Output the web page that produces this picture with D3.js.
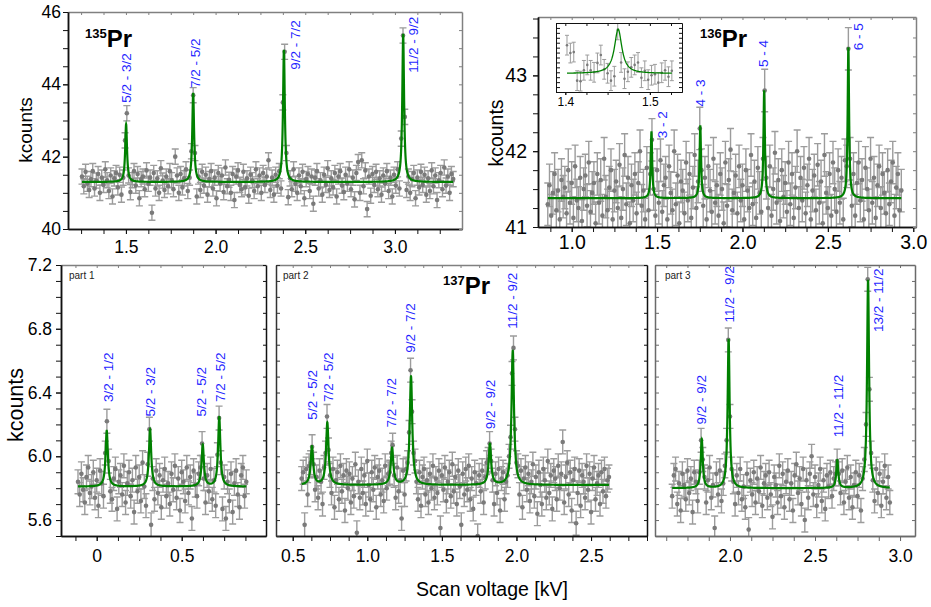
<!DOCTYPE html>
<html><head><meta charset="utf-8">
<script src="https://cdn.jsdelivr.net/npm/d3@7"></script>
<style>body{margin:0;background:#fff} svg{display:block;font-family:"Liberation Sans",Arial,sans-serif}</style>
</head><body><svg id="c" width="931" height="607"></svg>
<script>
// ---------- DATA ----------
// 135Pr scan (x start, step, kcounts)
const tlX0 = 1.255, tlStep = 0.01;
const tlY = [41.45,41.18,41.58,41.25,41.08,41.38,41.60,41.12,41.34,41.52,
41.00,41.42,41.22,41.65,41.35,41.05,41.48,40.90,41.40,41.55,
41.15,41.50,40.95,41.42,42.45,43.20,41.48,41.02,41.35,41.60,
41.20,41.52,40.85,41.38,41.45,41.10,41.62,41.25,41.42,40.45,
41.55,41.12,41.40,41.00,41.68,41.34,41.08,41.45,41.18,41.60,
41.35,41.10,42.00,41.48,41.00,41.52,41.15,41.40,41.65,41.05,
41.42,42.15,43.70,42.10,40.90,41.45,41.08,41.58,41.20,41.50,
40.95,41.38,41.60,41.12,41.42,40.85,41.55,41.25,41.48,41.02,
41.70,41.18,41.36,41.00,41.52,40.80,41.45,41.62,41.22,41.10,
41.58,41.15,41.40,40.92,41.50,41.35,41.05,41.65,41.18,41.48,
41.00,41.55,41.22,41.45,41.90,41.08,41.42,40.95,41.50,41.20,
41.60,41.12,43.50,44.90,42.10,40.88,41.40,41.10,41.65,41.25,
41.00,41.48,41.18,41.58,40.85,41.38,41.52,41.05,41.45,40.70,
41.42,41.60,41.12,41.35,40.95,41.50,41.22,41.68,41.08,41.40,
41.15,41.55,40.90,41.45,41.60,41.20,41.02,41.50,41.25,41.65,
41.10,41.42,40.82,41.55,41.85,41.00,41.90,41.18,41.62,40.55,
41.45,40.92,41.52,41.22,41.58,41.10,41.40,40.95,41.48,41.25,
41.60,41.05,41.42,40.90,41.50,41.20,41.65,41.12,42.50,45.35,
43.10,41.08,41.45,41.00,41.38,41.55,40.85,41.42,41.15,41.58,
41.22,41.50,40.95,41.40,41.05,41.62,41.18,41.48,40.80,41.35,
41.55,41.10,41.70,41.20,41.45,41.00,41.52,41.38];
const tlBase = 41.30, tlWidth = 0.006;
const tlCenters = [1.501, 1.875, 2.381, 3.046];
const tlAmps = [1.60, 2.46, 3.65, 4.07];
const tlLabels = ["5/2 - 3/2", "7/2 - 5/2", "9/2 - 7/2", "11/2 - 9/2"];
const tlLabelX = [1.504, 1.885, 2.443, 3.101];
const tlLabelY = [43.49, 43.90, 44.40, 44.32];
const tlXTicks = [1.5, 2.0, 2.5, 3.0], tlXTickLabels = ["1.5", "2.0", "2.5", "3.0"];
const tlYTicks = [40, 42, 44, 46], tlYTickLabels = ["40", "42", "44", "46"];

// 136Pr scan
const trX0 = 0.86, trStep = 0.01;
const trY = [41.30,41.55,41.15,41.45,41.70,41.22,41.48,41.10,41.62,41.40,
41.52,41.18,41.75,41.32,41.58,41.12,41.80,41.35,41.25,41.65,
41.08,41.50,41.68,41.28,41.85,41.20,41.45,41.58,41.05,41.70,
41.32,41.62,41.15,41.90,41.40,41.22,41.52,41.75,41.10,41.48,
41.60,41.25,41.82,41.12,41.50,41.95,41.30,41.65,41.05,41.55,
41.35,41.70,41.18,41.58,42.00,41.28,41.48,41.10,41.78,41.22,
41.70,42.15,41.50,41.15,41.75,41.32,41.88,41.20,41.55,41.65,
41.10,41.80,41.45,41.22,42.00,41.30,41.68,41.05,41.60,41.48,
41.18,41.85,41.35,41.70,41.12,41.52,41.95,41.25,41.60,42.30,
41.75,41.28,41.65,41.10,41.80,41.48,41.20,41.90,41.32,41.55,
41.15,41.70,41.50,41.05,41.85,41.28,41.62,42.02,41.22,41.45,
41.68,41.18,41.80,41.35,41.55,41.10,41.75,41.48,41.25,41.95,
41.30,41.60,41.12,41.78,41.45,41.20,41.90,42.80,41.65,41.25,
41.80,41.15,41.50,41.98,41.32,41.62,41.08,41.75,41.40,41.58,
41.20,41.85,41.30,41.70,41.12,41.52,42.00,41.25,41.65,41.35,
41.78,41.18,41.55,41.90,41.10,41.48,41.68,41.22,41.82,41.32,
41.60,41.05,41.95,41.45,41.25,41.70,41.15,41.85,41.50,41.20,
41.75,41.32,41.65,41.10,41.88,41.80,43.35,41.90,41.28,41.70,
41.15,41.58,41.85,41.35,41.62,41.10,41.78,41.50,41.22,41.90,
41.32,41.65,41.12,41.55,41.80,41.25,41.70,41.45,41.18,41.75,
41.30,41.60,41.85,41.15,41.52,41.70,41.22,41.48];
const trBase = 41.38, trWidth = 0.005;
const trCenters = [1.467, 1.753, 2.127, 2.620];
const trAmps = [0.87, 0.95, 1.41, 1.99];
const trLabels = ["3 - 2", "4 - 3", "5 - 4", "6 - 5"];
const trLabelX = [1.533, 1.751, 2.120, 2.676];
const trLabelY = [42.17, 42.59, 43.11, 43.33];
const trXTicks = [1.0, 1.5, 2.0, 2.5, 3.0], trXTickLabels = ["1.0", "1.5", "2.0", "2.5", "3.0"];
const trYTicks = [41, 42, 43], trYTickLabels = ["41", "42", "43"];

// 136Pr inset (fine scan around 3 - 2)
const inX0 = 1.402, inStep = 0.004;
const inY = [41.95,41.79,41.81,41.23,41.22,41.44,41.55,41.44,41.40,41.59,41.75,41.46,41.38,41.23,41.32,42.26,
41.60,41.27,41.41,41.50,41.55,41.60,41.29,41.43,41.25,41.34,41.36,41.19,41.39,41.44,41.31,41.43];
const inBase = 41.376, inWidth = 0.0053;
const inCenters = [1.4625];
const inAmps = [0.90];
const inXTicks = [1.4, 1.5], inXTickLabels = ["1.4", "1.5"];

// 137Pr part 1
const p1X0 = -0.11, p1Step = 0.01;
const p1Y = [5.84,5.76,5.89,5.79,5.71,5.87,5.93,5.77,5.81,5.90,
5.74,5.85,5.69,5.91,5.83,5.75,6.02,6.22,5.97,5.78,
5.73,5.86,5.92,5.67,5.84,5.88,5.76,5.94,5.71,5.83,
5.90,5.75,5.85,5.65,5.93,5.78,5.87,5.72,5.96,5.81,
5.69,5.95,6.17,5.57,5.86,5.73,5.91,5.77,5.88,5.68,
5.85,5.92,5.75,5.83,5.70,5.89,5.79,5.94,5.74,5.86,
5.66,5.90,5.84,5.72,5.93,5.77,5.87,5.61,5.91,5.82,
5.75,5.89,5.93,6.08,5.86,5.71,5.88,5.78,5.92,5.73,
5.85,5.69,6.01,6.24,5.96,5.67,5.87,5.61,5.84,5.72,
5.89,5.65,5.83,5.91,5.76,5.68,5.88,5.93,5.75,5.84];
const p1Base = 5.81, p1Width = 0.008;
const p1Centers = [0.059, 0.314, 0.624, 0.721];
const p1Amps = [0.35, 0.36, 0.26, 0.435];
const p1Labels = ["3/2 - 1/2", "5/2 - 3/2", "5/2 - 5/2", "7/2 - 5/2"];
const p1LabelX = [0.066, 0.314, 0.618, 0.725];
const p1LabelY = [6.34, 6.25, 6.25, 6.34];
const p1XTicks = [0, 0.5], p1XTickLabels = ["0", "0.5"];

// 137Pr part 2
const p2X0 = 0.56, p2Step = 0.01;
const p2Y = [5.86,5.90,5.57,5.92,5.76,5.94,5.96,6.06,5.95,5.79,
5.87,5.74,5.91,5.84,5.70,5.93,6.02,6.25,6.04,5.88,
5.77,5.92,5.68,5.85,5.90,5.73,5.94,5.78,5.88,5.66,
5.91,5.80,5.89,5.71,5.86,5.75,5.95,5.52,5.84,5.74,
5.92,5.77,5.88,5.70,5.97,5.82,5.73,5.90,5.79,5.93,
5.68,5.87,5.91,5.76,5.85,5.72,5.94,5.80,5.89,5.90,
6.02,6.07,5.88,5.74,5.93,5.78,5.85,5.61,5.91,5.76,
5.92,5.96,6.15,6.54,6.28,6.02,5.97,5.84,5.73,5.90,
5.69,5.87,5.92,5.76,5.85,5.71,5.89,5.80,5.94,5.74,
5.86,5.77,5.91,5.55,5.88,5.79,5.93,5.72,5.84,5.90,
5.75,5.95,5.78,5.87,5.70,5.91,5.81,5.57,5.89,5.76,
5.92,5.79,5.94,5.73,5.86,5.67,5.90,5.83,5.50,5.88,
5.78,5.91,5.71,5.87,5.96,5.98,6.08,5.97,5.85,5.70,
5.89,5.77,5.92,5.66,5.86,5.90,5.73,5.84,5.88,6.00,
6.12,6.52,6.68,6.17,5.96,5.94,5.76,5.91,5.68,5.86,
5.93,5.79,5.89,5.72,5.84,5.95,5.75,5.87,5.64,5.90,
5.82,5.70,5.92,5.85,5.74,5.97,5.77,5.88,5.67,5.91,
5.86,5.73,5.94,5.80,5.89,6.09,5.71,5.87,5.96,5.76,
5.90,5.66,5.85,5.92,5.58,5.77,5.91,5.69,5.88,5.84,
5.74,5.94,5.79,5.89,5.65,5.86,5.93,5.73,5.83,5.88,
5.70,5.90,5.78,5.92,5.75,5.85,5.87];
const p2Base = 5.82, p2Width = 0.010;
const p2Centers = [0.629, 0.732, 1.166, 1.293, 1.822, 1.975];
const p2Amps = [0.24, 0.39, 0.23, 0.68, 0.255, 0.84];
const p2Labels = ["5/2 - 5/2", "7/2 - 5/2", "7/2 - 7/2", "9/2 - 7/2", "9/2 - 9/2", "11/2 - 9/2"];
const p2LabelX = [0.634, 0.737, 1.164, 1.291, 1.822, 1.975];
const p2LabelY = [6.23, 6.34, 6.18, 6.65, 6.17, 6.80];
const p2XTicks = [0.5, 1.0, 1.5, 2.0, 2.5], p2XTickLabels = ["0.5", "1.0", "1.5", "2.0", "2.5"];

// 137Pr part 3
const p3X0 = 1.66, p3Step = 0.01;
const p3Y = [5.75,5.88,5.92,5.70,5.83,5.66,5.89,5.82,5.73,5.91,
5.77,5.86,5.65,5.90,5.84,5.72,5.90,6.10,5.98,5.87,
5.71,5.85,5.93,5.74,5.82,5.55,5.89,5.76,5.91,5.72,
5.83,5.94,6.10,6.73,6.25,5.92,5.84,5.70,5.88,5.77,
5.92,5.73,5.81,5.68,5.89,5.54,5.85,5.76,5.90,5.71,
5.86,5.78,5.93,5.69,5.83,5.88,5.74,5.90,5.76,5.62,
5.87,5.82,5.71,5.94,5.75,5.89,5.68,5.84,5.91,5.73,
5.83,5.66,5.88,5.95,5.77,5.86,5.70,5.92,5.60,5.85,
5.74,5.89,6.00,5.76,5.87,5.69,5.82,5.92,5.72,5.85,
5.67,5.88,5.81,5.90,5.75,5.86,5.89,5.97,5.89,5.77,
5.91,5.71,5.84,5.93,5.74,5.87,5.68,5.82,5.90,5.75,
5.88,5.66,5.86,5.98,6.20,7.11,6.42,6.02,5.85,5.72,
5.92,5.77,5.89,5.69,5.84,5.94,5.74,5.87,5.71];
const p3Base = 5.80, p3Width = 0.007;
const p3Centers = [1.834, 1.992, 2.631, 2.812];
const p3Amps = [0.306, 0.935, 0.175, 1.306];
const p3Labels = ["9/2 - 9/2", "11/2 - 9/2", "11/2 - 11/2", "13/2 - 11/2"];
const p3LabelX = [1.834, 1.994, 2.637, 2.872];
const p3LabelY = [6.20, 6.84, 6.12, 6.78];
const p3XTicks = [2.0, 2.5, 3.0], p3XTickLabels = ["2.0", "2.5", "3.0"];

const botYTicks = [5.6, 6.0, 6.4, 6.8, 7.2], botYTickLabels = ["5.6", "6.0", "6.4", "6.8", "7.2"];
const errBars = {tl: 0.21, tr: 0.28, inset: 0.20, bottom: 0.075};

// ---------- DRAWING ----------
const svg = d3.select('#c');
const defs = svg.append('defs');
const GREEN = '#008000', BLUE = '#1f1fff', PT = '#7a7a7a', ERR = '#9c9c9c';

function lorentz(x, base, centers, amps, w) {
  let s = base;
  for (let k = 0; k < centers.length; k++) { const u = (x - centers[k]) / w; s += amps[k] / (1 + u * u); }
  return s;
}
function minorVals(dom, step) {
  const a = Math.ceil(dom[0] / step - 1e-9), b = Math.floor(dom[1] / step + 1e-9);
  return d3.range(a, b + 1).map(k => +(k * step).toFixed(6));
}
function styleAxis(g, color, width, fs) {
  g.select('.domain').attr('stroke', color).attr('stroke-width', width);
  g.selectAll('.tick line').attr('stroke', color).attr('stroke-width', 1);
  g.selectAll('.tick text').attr('fill', '#000').attr('font-size', fs).attr('font-family', '"Liberation Sans",Arial,sans-serif');
}

function drawPanel(p) {
  const [L, R, T, B] = p.box;
  const x = d3.scaleLinear().domain(p.xDom).range([L, R]);
  const y = d3.scaleLinear().domain(p.yDom).range([B, T]);
  if (p.bg) svg.append('rect').attr('x', L).attr('y', T).attr('width', R - L).attr('height', B - T).attr('fill', '#fff');
  const cid = 'clip-' + p.id;
  defs.append('clipPath').attr('id', cid).append('rect').attr('x', L).attr('y', T).attr('width', R - L).attr('height', B - T);
  const g = svg.append('g').attr('clip-path', `url(#${cid})`);
  const pts = p.ys.map((v, i) => ({x: p.x0 + i * p.step, y: v}));
  const cap = p.cap;
  g.append('g').attr('stroke', ERR).attr('stroke-width', p.ew).attr('fill', 'none')
    .selectAll('path').data(pts).join('path')
    .attr('d', d => {
      const X = x(d.x), y1 = y(d.y + p.err), y2 = y(d.y - p.err);
      return `M${X},${y1}V${y2}M${X - cap},${y1}H${X + cap}M${X - cap},${y2}H${X + cap}`;
    });
  g.append('g').attr('fill', PT).selectAll('circle').data(pts).join('circle')
    .attr('cx', d => x(d.x)).attr('cy', d => y(d.y)).attr('r', p.r);
  const xs = d3.range(pts[0].x, pts[pts.length - 1].x + 1e-9, 0.0004);
  g.append('path').datum(xs).attr('fill', 'none').attr('stroke', GREEN).attr('stroke-width', p.lw)
    .attr('d', d3.line().x(v => x(v)).y(v => y(lorentz(v, p.base, p.centers, p.amps, p.w))));

  const fc = p.frame; // [left,bottom,top,right]
  const gbm = svg.append('g').attr('transform', `translate(0,${B})`)
    .call(d3.axisBottom(x).tickValues(minorVals(p.xDom, p.xMinor)).tickSize(p.tk).tickFormat('').tickSizeOuter(0));
  styleAxis(gbm, fc[1], p.fw, p.fs);
  const gb = svg.append('g').attr('transform', `translate(0,${B})`)
    .call(d3.axisBottom(x).tickValues(p.xTicks).tickFormat((d, i) => p.xTickLabels[i]).tickSize(p.tk).tickPadding(p.xPad).tickSizeOuter(0));
  styleAxis(gb, fc[1], p.fw, p.fs);
  const gt = svg.append('g').attr('transform', `translate(0,${T})`)
    .call(d3.axisTop(x).tickValues(minorVals(p.xDom, p.xMinor)).tickSize(-3).tickFormat('').tickSizeOuter(0));
  styleAxis(gt, fc[2], p.fw, p.fs);
  const gr = svg.append('g').attr('transform', `translate(${R},0)`)
    .call(d3.axisRight(y).tickValues(minorVals(p.yDom, p.yMinor)).tickSize(-3).tickFormat('').tickSizeOuter(0));
  styleAxis(gr, fc[3], p.fw, p.fs);
  const inward = !p.yTickLabels;
  const glm = svg.append('g').attr('transform', `translate(${L},0)`)
    .call(d3.axisLeft(y).tickValues(minorVals(p.yDom, p.yMinor)).tickSize(inward ? -4 : p.tk).tickFormat('').tickSizeOuter(0));
  styleAxis(glm, fc[0], p.fw, p.fs);
  if (!inward) {
    const gl = svg.append('g').attr('transform', `translate(${L},0)`)
      .call(d3.axisLeft(y).tickValues(p.yTicks).tickFormat((d, i) => p.yTickLabels[i]).tickSize(p.tk).tickPadding(p.yPad).tickSizeOuter(0));
    styleAxis(gl, fc[0], p.fw, p.fs);
  }
  if (p.labels) {
    svg.append('g').selectAll('text').data(p.labels).join('text')
      .attr('transform', (d, i) => `translate(${x(p.labelX[i])},${y(p.labelY[i])}) rotate(-90)`)
      .attr('dy', '0.35em').attr('fill', BLUE).attr('font-size', 13.5).text(d => d);
  }
  return {x, y};
}

const K = '#111', Gr = '#808080';
drawPanel({id: 'tl', box: [68, 462, 12, 229], xDom: [1.177, 3.374], yDom: [40, 46],
  x0: tlX0, step: tlStep, ys: tlY, err: errBars.tl, base: tlBase, centers: tlCenters, amps: tlAmps, w: tlWidth,
  xTicks: tlXTicks, xTickLabels: tlXTickLabels, xMinor: 0.125, yTicks: tlYTicks, yTickLabels: tlYTickLabels, yMinor: 0.5,
  labels: tlLabels, labelX: tlLabelX, labelY: tlLabelY, frame: [K, K, Gr, Gr], fw: 1.5, fs: 17.5, tk: 5, xPad: 7, yPad: 2,
  r: 2.3, cap: 3.5, ew: 1.4, lw: 2.2});
drawPanel({id: 'tr', box: [538, 916, 17, 227], xDom: [0.8027, 3.016], yDom: [41, 43.77],
  x0: trX0, step: trStep, ys: trY, err: errBars.tr, base: trBase, centers: trCenters, amps: trAmps, w: trWidth,
  xTicks: trXTicks, xTickLabels: trXTickLabels, xMinor: 0.125, yTicks: trYTicks, yTickLabels: trYTickLabels, yMinor: 0.25,
  labels: trLabels, labelX: trLabelX, labelY: trLabelY, frame: [K, K, Gr, Gr], fw: 1.5, fs: 19.5, tk: 5, xPad: 3, yPad: 6,
  r: 2.3, cap: 3.5, ew: 1.4, lw: 2.2});
drawPanel({id: 'inset', box: [556, 682, 23, 92], xDom: [1.389, 1.538], yDom: [41.0, 42.4], bg: true,
  x0: inX0, step: inStep, ys: inY, err: errBars.inset, base: inBase, centers: inCenters, amps: inAmps, w: inWidth,
  xTicks: inXTicks, xTickLabels: inXTickLabels, xMinor: 0.025, yTicks: [], yTickLabels: null, yMinor: 0.1,
  frame: [K, K, K, K], fw: 1, fs: 12, tk: 3, xPad: 2, yPad: 2, r: 1.3, cap: 2, ew: 1, lw: 1.3});
drawPanel({id: 'p1', box: [61, 266, 265, 536], xDom: [-0.21, 0.996], yDom: [5.5, 7.2],
  x0: p1X0, step: p1Step, ys: p1Y, err: errBars.bottom, base: p1Base, centers: p1Centers, amps: p1Amps, w: p1Width,
  xTicks: p1XTicks, xTickLabels: p1XTickLabels, xMinor: 0.125, yTicks: botYTicks, yTickLabels: botYTickLabels, yMinor: 0.1,
  labels: p1Labels, labelX: p1LabelX, labelY: p1LabelY, frame: [K, K, Gr, K], fw: 1.5, fs: 17.5, tk: 5, xPad: 9, yPad: 4,
  r: 2.3, cap: 3.5, ew: 1.4, lw: 2.2});
drawPanel({id: 'p2', box: [276, 647, 265, 536], xDom: [0.388, 2.875], yDom: [5.5, 7.2],
  x0: p2X0, step: p2Step, ys: p2Y, err: errBars.bottom, base: p2Base, centers: p2Centers, amps: p2Amps, w: p2Width,
  xTicks: p2XTicks, xTickLabels: p2XTickLabels, xMinor: 0.125, yTicks: botYTicks, yTickLabels: null, yMinor: 0.1,
  labels: p2Labels, labelX: p2LabelX, labelY: p2LabelY, frame: ['#333', K, Gr, K], fw: 1.5, fs: 17.5, tk: 5, xPad: 9, yPad: 4,
  r: 2.3, cap: 3.5, ew: 1.4, lw: 2.2});
drawPanel({id: 'p3', box: [655, 915, 265, 536], xDom: [1.559, 3.088], yDom: [5.5, 7.2],
  x0: p3X0, step: p3Step, ys: p3Y, err: errBars.bottom, base: p3Base, centers: p3Centers, amps: p3Amps, w: p3Width,
  xTicks: p3XTicks, xTickLabels: p3XTickLabels, xMinor: 0.125, yTicks: botYTicks, yTickLabels: null, yMinor: 0.1,
  labels: p3Labels, labelX: p3LabelX, labelY: p3LabelY, frame: ['#6a6a6a', '#6a6a6a', '#6a6a6a', '#6a6a6a'], fw: 1.5, fs: 17.5, tk: 5, xPad: 9, yPad: 4,
  r: 2.3, cap: 3.5, ew: 1.4, lw: 2.2});

function title(xp, yp, mass) {
  const t = svg.append('text').attr('x', xp).attr('y', yp).attr('font-weight', 'bold').attr('fill', '#000');
  t.append('tspan').attr('font-size', 13).attr('dy', -9).text(mass);
  t.append('tspan').attr('font-size', 24).attr('dy', 9).text('Pr');
}
title(85, 47, '135');
title(700, 47, '136');
title(443, 294, '137');

[['part 1', 69], ['part 2', 283], ['part 3', 665]].forEach(([s, xp]) =>
  svg.append('text').attr('x', xp).attr('y', 279).attr('font-size', 10).attr('fill', '#222').text(s));

function ylab(xp, yp, fs) {
  svg.append('text').attr('transform', `translate(${xp},${yp}) rotate(-90)`).attr('text-anchor', 'middle')
    .attr('font-size', fs).attr('fill', '#000').text('kcounts');
}
ylab(32, 130, 19);
ylab(503, 133, 19.5);
ylab(23, 405, 21.5);
svg.append('text').attr('x', 492).attr('y', 596).attr('text-anchor', 'middle').attr('font-size', 19.5)
  .attr('fill', '#000').text('Scan voltage [kV]');
</script></body></html>
